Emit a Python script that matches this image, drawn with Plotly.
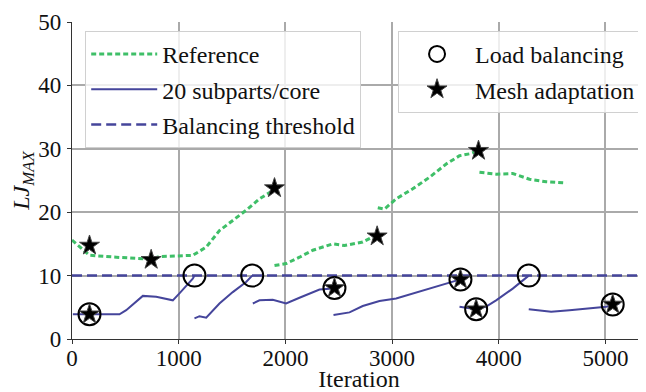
import plotly.graph_objects as go

# ---- data ----
# Reference run (green dotted), segments separated by None
ref_x = [0, 164, 414, 664, 742, 820, 1132, 1258, 1382, 1507, 1632, 1757, 1882, 1898, None,
         1898, 2007, 2132, 2257, 2444, 2554, 2725, 2819, 2860, None,
         2866, 2929, 3038, 3194, 3350, 3507, 3632, 3725, 3810, None,
         3819, 3975, 4131, 4288, 4444, 4632]
ref_y = [15.6, 13.2, 12.9, 12.7, 12.6, 13.0, 13.2, 14.5, 17.1, 18.7, 20.3, 22.1, 23.4, 23.8, None,
         11.6, 11.9, 12.9, 14.0, 15.0, 14.75, 15.3, 16.1, 16.2, None,
         20.7, 20.5, 22.1, 23.7, 25.5, 27.6, 28.9, 29.2, 29.7, None,
         26.3, 26.0, 26.1, 25.2, 24.8, 24.6]

# 20 subparts/core (blue solid)
sub_x = [8, 164, 445, 508, 664, 789, 883, 945, 1007, 1132, 1148, None,
         1148, 1195, 1258, 1382, 1507, 1632, 1689, None,
         1695, 1757, 1882, 2007, 2132, 2320, 2444, 2460, None,
         2451, 2601, 2725, 2882, 3038, 3194, 3350, 3507, 3641, None,
         3632, 3788, 3882, 3975, 4131, 4281, None,
         4281, 4491, 4663, 4850, 5007, 5131]
sub_y = [3.9, 3.9, 3.9, 4.55, 6.8, 6.65, 6.3, 6.1, 7.2, 9.5, 10.0, None,
         3.25, 3.6, 3.35, 5.6, 7.4, 9.0, 10.0, None,
         5.6, 6.1, 6.2, 5.6, 6.5, 7.8, 7.95, 8.05, None,
         3.8, 4.2, 5.2, 6.0, 6.4, 7.2, 7.95, 8.75, 9.4, None,
         5.1, 4.7, 5.1, 6.1, 7.95, 10.0, None,
         4.7, 4.3, 4.55, 4.8, 5.1, 5.6]

# Balancing threshold
thr_x = [0, 5400]
thr_y = [10, 10]

# Load balancing events (circles)
lb_x = [164, 1148, 1689, 2460, 3641, 3788, 4281, 5068]
lb_y = [3.9, 10.0, 10.0, 8.05, 9.4, 4.7, 10.0, 5.45]

# Mesh adaptation events (stars)
ma_x = [164, 742, 1898, 2860, 3810, 164, 2460, 3641, 3788, 5068]
ma_y = [14.75, 12.5, 23.8, 16.2, 29.7, 3.9, 8.05, 9.4, 4.7, 5.45]

x_ticks = [0, 1000, 2000, 3000, 4000, 5000]
y_ticks = [0, 10, 20, 30, 40, 50]

GREEN = "#3fbf68"
BLUE = "#45459b"
FONT = "Liberation Serif, Times New Roman, serif"

fig = go.Figure()
fig.add_trace(go.Scatter(x=ref_x, y=ref_y, mode="lines", name="Reference",
                         line=dict(color=GREEN, width=3, dash="5px,3px"),
                         connectgaps=False, legend="legend", legendgroup="a"))
fig.add_trace(go.Scatter(x=sub_x, y=sub_y, mode="lines", name="20 subparts/core",
                         line=dict(color=BLUE, width=2),
                         connectgaps=False, legend="legend", legendgroup="b"))
fig.add_trace(go.Scatter(x=thr_x, y=thr_y, mode="lines", name="Balancing threshold",
                         line=dict(color=BLUE, width=2.5, dash="10px,5px"),
                         legend="legend", legendgroup="c"))
fig.add_trace(go.Scatter(x=lb_x, y=lb_y, mode="markers", name="Load balancing",
                         marker=dict(symbol="circle-open", size=22, color="black",
                                     line=dict(width=2, color="black")),
                         legend="legend2", legendgroup="d"))
fig.add_trace(go.Scatter(x=ma_x, y=ma_y, mode="markers", name="Mesh adaptation",
                         marker=dict(symbol="star", size=15, color="black",
                                     line=dict(width=1, color="#444")),
                         legend="legend2", legendgroup="e"))

axis_common = dict(showgrid=True, gridcolor="#aaaaaa", gridwidth=1.5,
                   showline=True, linecolor="#333", linewidth=1.3,
                   ticks="outside", ticklen=4, tickcolor="#333", tickwidth=1.3,
                   zeroline=False, automargin=False,
                   tickfont=dict(family=FONT, size=23, color="#111"))

# The page body has an 8px default margin, so the figure is sized to fit inside it.
fig.update_layout(
    width=638, height=384,
    margin=dict(l=64, r=0, t=14, b=53),
    plot_bgcolor="white", paper_bgcolor="white",
    font=dict(family=FONT, size=22, color="#111"),
    xaxis=dict(range=[0, 5380], tickvals=x_ticks, ticklabelstandoff=-6,
               title=dict(text="Iteration", font=dict(family=FONT, size=24), standoff=3),
               **axis_common),
    yaxis=dict(range=[0, 50], tickvals=y_ticks, ticklabelstandoff=1,
               title=dict(text="<i>LJ</i><sub><i>MAX</i></sub>", font=dict(family=FONT, size=24), standoff=2),
               **axis_common),
    legend=dict(x=0.023, y=0.972, xanchor="left", yanchor="top",
                bgcolor="rgba(255,255,255,0.8)", bordercolor="#d0d0d0", borderwidth=1,
                font=dict(family=FONT, size=24), tracegroupgap=1, itemwidth=66),
    legend2=dict(x=0.568, y=0.972, xanchor="left", yanchor="top",
                 bgcolor="rgba(255,255,255,0.8)", bordercolor="#d0d0d0", borderwidth=1,
                 font=dict(family=FONT, size=24), tracegroupgap=1, itemwidth=66),
    showlegend=True,
)

fig.write_html("out.html")
